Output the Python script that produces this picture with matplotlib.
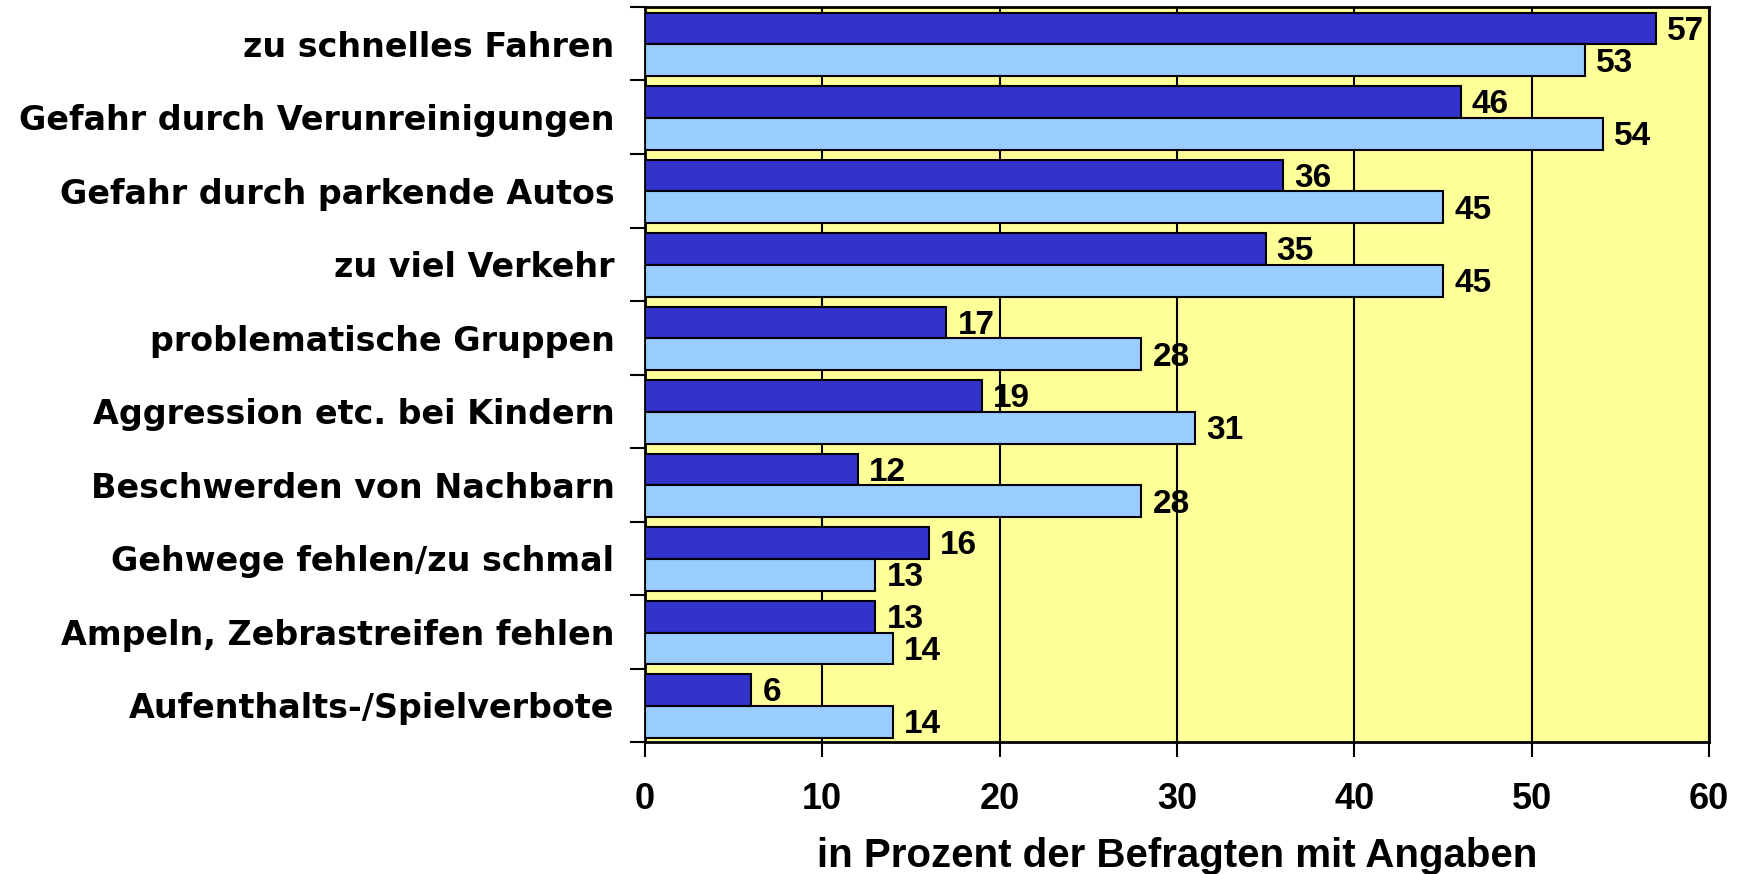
import matplotlib.pyplot as plt
import numpy as np

categories = [
    "zu schnelles Fahren",
    "Gefahr durch Verunreinigungen",
    "Gefahr durch parkende Autos",
    "zu viel Verkehr",
    "problematische Gruppen",
    "Aggression etc. bei Kindern",
    "Beschwerden von Nachbarn",
    "Gehwege fehlen/zu schmal",
    "Ampeln, Zebrastreifen fehlen",
    "Aufenthalts-/Spielverbote",
]
werte_dunkel = [57, 46, 36, 35, 17, 19, 12, 16, 13, 6]
werte_hell = [53, 54, 45, 45, 28, 31, 28, 13, 14, 14]
x_ticks = [0, 10, 20, 30, 40, 50, 60]

plt.rcParams['font.family'] = ['Liberation Sans', 'DejaVu Sans']
plt.rcParams['font.weight'] = 'bold'

fig = plt.figure(figsize=(17.44, 8.74), dpi=100)
ax = fig.add_axes([0.3698, 0.151, 0.6101, 0.841])
ax.set_facecolor("#FFFF99")

y = np.arange(len(categories))
h = 0.435
ax.barh(y - h / 2 + 0.01, werte_dunkel, height=h, color="#3333CC",
        edgecolor="black", linewidth=1.5, zorder=3)
ax.barh(y + h / 2 + 0.01, werte_hell, height=h, color="#99CCFF",
        edgecolor="black", linewidth=1.5, zorder=3)

for yi, v in zip(y, werte_dunkel):
    ax.annotate(str(v), (v, yi - h / 2 + 0.01), xytext=(8, -2),
                textcoords="offset points", va="center", ha="left",
                fontsize=24, fontweight="bold")
for yi, v in zip(y, werte_hell):
    ax.annotate(str(v), (v, yi + h / 2 + 0.01), xytext=(8, -2),
                textcoords="offset points", va="center", ha="left",
                fontsize=24, fontweight="bold")

ax.set_xlim(0, 60)
ax.set_ylim(len(categories) - 0.5, -0.5)
ax.set_xticks(x_ticks)
ax.set_xticklabels([str(t) for t in x_ticks], fontsize=26, fontweight="bold")
ax.xaxis.grid(True, color="black", linewidth=1.5, zorder=1)
ax.set_axisbelow(True)

# ticks between categories, labels at category centres
ax.set_yticks(np.arange(len(categories) + 1) - 0.5)
ax.set_yticklabels([])
ax.set_yticks(y, minor=True)
ax.set_yticklabels(categories, minor=True, fontsize=24, fontweight="bold",
                   family="DejaVu Sans")
ax.tick_params(axis="y", which="minor", length=0, pad=22)
ax.tick_params(axis="y", which="major", length=11, width=1.5, direction="out")
ax.tick_params(axis="x", length=11, width=1.5, direction="out", pad=18)

for s in ax.spines.values():
    s.set_linewidth(2)

ax.set_xlabel("in Prozent der Befragten mit Angaben", fontsize=29,
              fontweight="bold", labelpad=14)

fig.savefig("out.png", dpi=100)
